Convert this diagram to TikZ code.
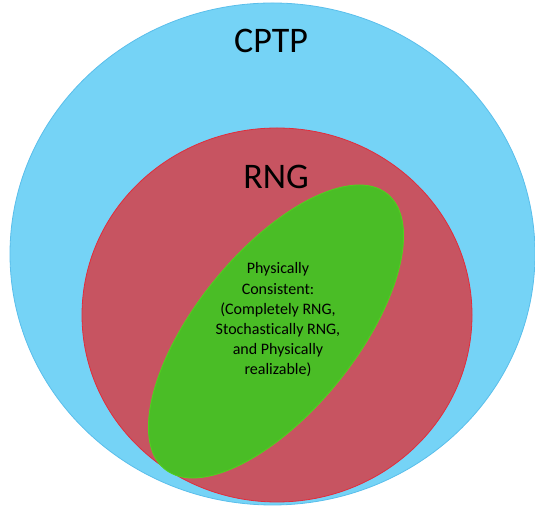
\documentclass[tikz,border=0pt]{standalone}
\usepackage{fontspec}
\setmainfont{Carlito}[Ligatures=NoCommon]
\usepackage{tikz}
\definecolor{cptpblue}{RGB}{117, 211, 246}
\definecolor{cptpedge}{RGB}{90, 190, 235}
\definecolor{rngred}{RGB}{199, 84, 97}
\definecolor{rngedge}{RGB}{225, 45, 60}
\definecolor{physgreen}{RGB}{74, 189, 38}
\definecolor{physedge}{RGB}{80, 210, 30}

\begin{document}
\begin{tikzpicture}[x=1pt, y=1pt]
    \useasboundingbox (0,0) rectangle (535,510);

    % Sets
    \draw[fill=cptpblue, draw=cptpedge, line width=0.8pt] (272.5,256) ellipse [x radius=262.5, y radius=251];
    \draw[fill=rngred, draw=rngedge, line width=0.8pt] (277,195) ellipse [x radius=195, y radius=187];
    \draw[fill=physgreen, draw=physedge, line width=0.8pt, rotate around={51:(276,178.5)}] (276,178.5) ellipse [x radius=177, y radius=80];

    % Labels
    \node[anchor=base, font=\fontsize{36}{42}\selectfont] (cptp) at (271,457) {CPTP};
    \node[anchor=base, font=\fontsize{36}{42}\selectfont] (rng) at (276,321) {RNG};
    \node[align=center, font=\fontsize{16}{20.2}\selectfont] (phys) at (278,190) {Physically\\ Consistent:\\ (Completely RNG,\\ Stochastically RNG,\\ and Physically\\ realizable)};
\end{tikzpicture}
\end{document}
